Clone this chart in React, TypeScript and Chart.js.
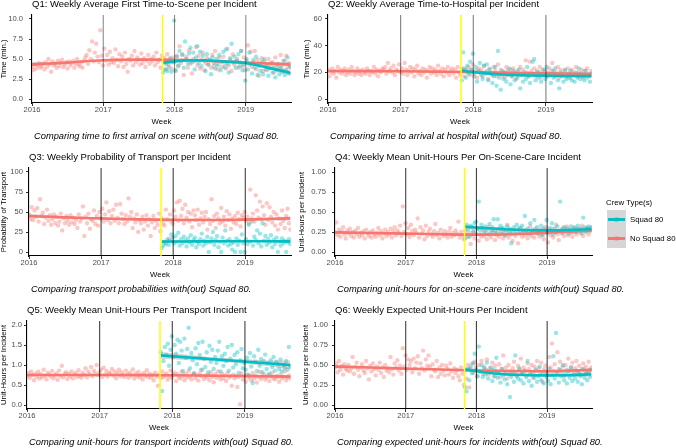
import React, { useEffect, useRef } from 'react';
import { Chart, registerables } from 'chart.js';

Chart.register(...registerables);

const FONT = "'Liberation Sans', Arial, Helvetica, sans-serif";
const RED = 'rgba(248,118,109,1)';
const RED_PT = 'rgba(248,118,109,0.4)';
const CYAN = 'rgba(0,191,196,1)';
const CYAN_PT = 'rgba(0,191,196,0.4)';
const BAND = 'rgba(153,153,153,0.4)';

// x axis: weeks since 2016-01-01
const yearTickWeeks = [0, 52.14, 104.29, 156.43];
const yearTickLabels = ['2016', '2017', '2018', '2019'];
const yearLineWeeks = [52.14, 104.29, 156.43];
const squadStartWeek = 95.5;
const squadFirstWeek = 96;
const lastWeek = 189.5;
const noSquadFitWeeks = [0, 26, 52, 78, 104, 130, 156, 189];
const squadFitWeeks = [96, 110, 125, 140, 156, 172, 189];

// ---------- Q1: time to scene (min.) ----------
const q1NoSquad = [
  4.0,3.6,4.3,3.8,4.2,4.5,3.9,4.1,4.4,3.7, 4.6,4.0,5.0,4.3,3.4,4.7,4.2,4.4,3.9,4.8,
  4.1,4.5,4.9,4.0,4.3,4.6,3.8,4.7,4.2,4.5, 4.8,3.9,4.4,5.0,4.3,4.1,4.6,3.9,4.8,5.2,
  5.5,4.4,6.1,5.0,7.2,4.7,5.8,6.9,5.3,4.6, 8.6,5.4,4.2,6.3,4.8,5.5,4.3,5.9,4.6,5.1,
  4.5,6.2,4.9,4.1,5.6,4.7,5.3,4.0,5.8,4.4, 3.4,5.0,4.8,5.4,4.2,6.0,4.6,5.2,4.9,4.3,
  5.7,4.5,5.1,4.0,4.8,5.5,4.4,5.0,4.7,5.3, 4.2,5.8,4.6,4.9,3.9,5.4,4.7,5.1,3.7,5.6,
  4.3,4.9,3.8,5.2,4.6,3.5,5.4,4.1,6.6,4.5, 5.6,3.0,4.9,5.3,3.9,6.1,4.4,3.2,5.0,4.7,
  6.5,4.2,5.4,3.8,4.9,5.8,3.6,4.5,5.1,4.3, 4.8,3.9,5.5,4.1,6.0,4.4,3.7,5.2,4.6,4.0,
  5.3,4.5,3.8,6.3,4.2,4.9,3.5,5.6,4.3,4.7, 5.0,3.9,4.6,6.0,4.1,5.2,3.6,4.8,6.7,4.3,
  5.9,4.0,4.6,6.0,3.7,4.9,2.9,4.4,5.1,3.5, 4.7,4.1,3.6,5.0,4.3,3.9,4.6,3.3,5.2,4.0,
  4.4,3.8,5.5,4.2,3.6,4.8,5.4,4.0,4.5,3.9,
];
const q1Squad = [
  3.3,3.7,4.4,3.5,4.0,5.1,3.4,4.6,9.8,3.6, 5.3,4.2,6.0,4.8,5.5,3.9,7.2,5.0,4.4,5.7,
  6.4,4.6,5.8,3.7,5.2,6.6,4.5,5.9,4.1,5.4, 4.8,3.5,5.6,4.3,4.9,3.1,5.2,4.5,3.8,5.0,
  4.2,5.5,3.6,4.7,5.9,4.0,6.2,4.4,3.3,5.1, 6.9,4.6,5.3,3.9,4.8,5.6,4.1,6.0,3.6,4.3,
  2.3,5.0,3.7,5.8,4.4,3.2,4.9,3.9,5.3,3.0, 4.1,3.5,4.6,3.1,5.0,3.7,4.2,2.9,3.8,4.5,
  3.3,4.0,2.7,3.6,4.3,3.1,3.9,3.4,4.8,3.0, 3.6,5.2,3.2,4.1,
];
const q1NoSquadFit = [4.33, 4.55, 4.85, 4.92, 4.9, 4.75, 4.55, 4.33];
const q1NoSquadBand = [0.25, 0.12, 0.1, 0.1, 0.1, 0.1, 0.12, 0.22];
const q1SquadFit = [4.55, 4.8, 4.85, 4.7, 4.5, 3.95, 3.25];
const q1SquadBand = [0.3, 0.15, 0.12, 0.12, 0.13, 0.15, 0.35];
const q1YTicks = [0, 2.5, 5, 7.5, 10];

// ---------- Q2: time to hospital (min.) ----------
const q2NoSquad = [
  22,17,20,23,19,21,16,24,20,22, 19,21,23,18,20,22,19,24,21,18,
  20,23,19,21,18,22,20,19,23,21, 18,21,20,24,19,22,17,21,20,23,
  22,24,19,27,21,23,20,25,18,22, 21,26,20,23,19,27,22,18,21,24,
  20,23,17,22,25,19,21,18,23,20, 22,16,21,24,19,23,20,22,18,25,
  21,19,23,17,22,20,24,18,21,23, 19,22,16,24,20,18,23,21,17,22,
  20,24,18,22,26,19,21,16,23,20, 22,17,25,19,21,15,23,20,18,24,
  21,17,26,19,22,18,20,16,24,21, 19,22,17,23,20,15,21,18,24,19,
  22,18,29,20,17,28,21,19,23,17, 20,18,24,16,22,19,21,17,20,23,
  18,27,21,17,20,24,16,22,19,18, 21,17,23,19,16,22,20,18,24,17,
  20,19,22,16,21,18,23,19,17,21,
];
const q2Squad = [
  14,35,23,16,25,19,28,22,34,17, 24,13,21,27,18,15,25,20,26,14,
  22,19,12,17,24,10,36,16,7,21, 15,20,13,18,23,11,17,21,14,19,
  16,22,8,18,13,20,15,24,17,12, 19,28,30,14,21,16,20,13,18,22,
  15,24,17,19,12,21,16,23,18,14, 8,20,17,13,22,15,19,16,21,14,
  18,13,20,16,23,15,19,17,14,21, 16,18,13,19,
];
const q2NoSquadFit = [21, 20.9, 20.8, 20.5, 20.2, 19.7, 19.2, 18.8];
const q2NoSquadBand = [1, 0.5, 0.4, 0.4, 0.4, 0.4, 0.5, 0.9];
const q2SquadFit = [21.2, 19.6, 18.4, 17.8, 17.5, 17.3, 17.3];
const q2SquadBand = [1.8, 1, 0.8, 0.8, 0.8, 0.8, 1.5];
const q2YTicks = [0, 20, 40, 60];

// ---------- Q3: probability of transport ----------
const q3NoSquad = [
  47,41,56,40,52,44,55,38,66,45, 49,35,43,53,39,46,34,41,47,36,
  44,33,38,48,27,42,36,45,39,34, 46,37,43,35,40,30,47,38,42,57,
  20,44,36,48,29,41,39,52,35,45, 33,50,42,54,38,47,62,40,51,36,
  45,53,39,59,43,36,60,48,41,35, 46,38,67,44,50,30,42,37,47,25,
  40,36,44,28,38,46,33,41,20,37, 45,30,39,34,48,26,42,36,33,53,
  41,17,47,38,35,52,44,62,39,64, 45,54,36,59,43,50,38,48,31,52,
  46,40,53,34,42,49,37,44,50,28, 41,35,66,39,45,30,48,42,36,55,
  38,44,33,51,40,47,29,42,37,45, 35,49,41,32,46,43,50,39,44,36,
  78,42,48,38,71,52,43,63,41,57, 46,34,61,40,56,44,37,50,33,47,
  28,42,35,52,39,30,45,54,36,28,
];
const q3Squad = [
  5,8,12,10,15,9,14,22,18,11, 20,13,24,8,16,11,19,14,7,17,
  12,21,9,15,18,6,13,10,16,23, 8,14,11,19,0,12,17,25,9,15,
  20,6,13,0,18,11,27,14,8,16, 10,3,12,0,17,9,14,0,22,11,
  0,16,10,34,13,38,8,19,15,27, 11,23,7,36,14,20,9,16,12,21,
  6,15,10,18,0,13,8,17,11,14, 0,12,16,10,
];
const q3NoSquadFit = [45, 43.3, 42, 40.8, 40.2, 40, 40.5, 42];
const q3NoSquadBand = [2.5, 1.2, 1, 1, 1, 1, 1.2, 2.5];
const q3SquadFit = [13, 13.2, 13.3, 13.4, 13.4, 13.4, 13.3];
const q3SquadBand = [2, 1.2, 1, 1, 1, 1, 2];
const q3YTicks = [0, 25, 50, 75, 100];

// ---------- Q4: unit-hours per on-scene-care incident ----------
const q4NoSquad = [
  .24,.37,.21,.28,.19,.26,.31,.22,.17,.27, .23,.29,.20,.25,.18,.27,.22,.30,.19,.24,
  .21,.26,.17,.28,.23,.20,.25,.18,.27,.22, .19,.24,.30,.21,.26,.17,.23,.28,.20,.25,
  .22,.29,.18,.26,.31,.21,.27,.24,.33,.20, .57,.25,.36,.22,.30,.19,.34,.26,.21,.28,
  .24,.42,.18,.31,.23,.27,.16,.33,.20,.25, .29,.22,.19,.26,.35,.21,.24,.17,.28,.23,
  .20,.26,.22,.18,.25,.30,.19,.24,.21,.27, .23,.38,.18,.25,.21,.16,.27,.22,.19,.24,
  .10,.21,.26,.17,.23,.30,.14,.22,.19,.28, .20,.25,.16,.31,.22,.18,.27,.24,.15,.21,
  .26,.19,.23,.29,.17,.25,.21,.34,.18,.24, .22,.14,.28,.20,.25,.11,.23,.30,.19,.26,
  .21,.27,.17,.24,.32,.20,.26,.18,.29,.23, .25,.19,.28,.22,.16,.31,.24,.12,.27,.21,
  .29,.18,.25,.34,.22,.15,.27,.23,.30,.20, .26,.32,.21,.28,.24,.19,.31,.25,.22,.29,
  .27,.23,.33,.20,.28,.25,.30,.22,.26,.31,
];
const q4Squad = [
  .17,.34,.28,.19,.33,.31,.25,.36,.38,.29, .63,.27,.34,.30,.24,.32,.28,.22,.35,.26,
  .31,.41,.27,.23,.41,.29,.33,.25,.30,.21, .27,.32,.24,.29,.11,.26,.31,.23,.34,.28,
  .30,.25,.33,.27,.45,.24,.29,.22,.36,.26, .28,.40,.25,.31,.23,.27,.33,.21,.29,.26,
  .40,.24,.30,.27,.36,.22,.29,.25,.32,.26, .63,.28,.24,.31,.26,.29,.23,.27,.32,.25,
  .28,.30,.25,.33,.27,.29,.24,.43,.31,.26, .29,.32,.27,.30,
];
const q4NoSquadFit = [0.245, 0.238, 0.23, 0.222, 0.217, 0.222, 0.24, 0.27];
const q4NoSquadBand = [0.02, 0.01, 0.01, 0.01, 0.01, 0.01, 0.01, 0.02];
const q4SquadFit = [0.315, 0.3, 0.285, 0.275, 0.27, 0.275, 0.285];
const q4SquadBand = [0.03, 0.015, 0.012, 0.012, 0.012, 0.015, 0.03];
const q4YTicks = [0, 0.25, 0.5, 0.75, 1];

// ---------- Q5: unit-hours per transport incident ----------
const q5NoSquad = [
  .72,.80,.68,.84,.75,.62,.78,.70,.83,.66, .77,.69,.88,.73,.64,.81,.76,.71,.85,.67,
  .74,.79,.63,.86,.72,.98,.69,.77,.82,.65, .78,.71,.84,.66,.76,.80,.70,.87,.73,.68,
  .81,.75,.92,.69,.84,.77,.95,.72,.86,.79, 1.0,.74,.82,.88,.70,.93,.76,.85,.71,.80,
  .78,.90,.73,.84,.67,.79,.88,.72,.82,.75, .70,.86,.77,.68,.81,.74,.89,.66,.79,.72,
  .83,.69,.76,.64,.80,.73,.87,.70,.78,.68, .75,.62,.81,.71,.48,.77,.67,.84,.70,.74,
  .79,.63,.72,.86,.68,.75,.81,.60,.77,.70, .66,.83,.73,.62,.78,.69,.85,.71,.64,.76,
  .80,.67,.74,.61,.79,.72,.88,.65,.73,.69, .75,.62,.82,.70,.57,.77,.68,.84,.71,.64,
  .78,.66,.74,.60,.81,.69,.72,.48,.76,.67, .73,.45,.70,.02,.79,.64,.71,.58,.76,.68,
  .72,.62,.80,.66,.74,.56,.70,.83,.65,.71, .77,.63,.69,.75,.60,.72,.81,.67,.64,.73,
  .70,.58,.76,.66,.71,.84,.62,.69,.74,.67,
];
const q5Squad = [
  1.32,.35,1.10,1.45,1.25,1.53,.98,1.38,1.72,1.20, 1.50,1.28,1.63,1.05,1.58,1.36,.85,1.66,1.18,1.40,
  1.93,.92,1.30,1.12,.78,1.42,1.02,1.55,1.25,.88, 1.58,1.15,.95,1.32,.82,1.48,1.08,1.38,.90,1.20,
  1.05,1.36,1.58,.84,1.22,.98,1.28,1.10,1.45,.86, 1.16,1.50,.94,1.25,1.02,1.32,.80,1.12,1.40,.92,
  1.05,.88,1.18,.75,1.30,.96,.55,1.22,1.08,.85, 1.38,.98,1.15,.82,1.10,1.26,.90,1.05,.78,1.12,
  .95,1.20,.86,1.08,1.02,.90,1.14,.84,1.00,.93, 1.10,.88,1.45,.96,
];
const q5NoSquadFit = [0.75, 0.75, 0.75, 0.748, 0.745, 0.735, 0.725, 0.71];
const q5NoSquadBand = [0.03, 0.015, 0.012, 0.012, 0.012, 0.012, 0.015, 0.03];
const q5SquadFit = [1.24, 1.204, 1.165, 1.127, 1.086, 1.045, 1.0];
const q5SquadBand = [0.09, 0.07, 0.055, 0.05, 0.055, 0.07, 0.11];
const q5YTicks = [0, 0.5, 1, 1.5, 2];

// ---------- Q6: expected unit-hours per incident ----------
const q6NoSquad = [
  .47,.52,.41,.55,.44,.49,.38,.51,.45,.43, .50,.42,.46,.60,.39,.48,.53,.44,.36,.47,
  .51,.43,.40,.55,.46,.32,.49,.42,.52,.45, .37,.48,.44,.53,.40,.47,.35,.50,.43,.46,
  .41,.60,.45,.38,.52,.47,.56,.43,.49,.39, .71,.48,.62,.44,.57,.50,.55,.41,.58,.46,
  .53,.61,.39,.52,.46,.68,.43,.57,.49,.62, .48,.36,.51,.44,.42,.55,.35,.47,.39,.50,
  .43,.37,.49,.45,.38,.52,.42,.34,.46,.40, .44,.36,.31,.47,.39,.25,.43,.33,.50,.22,
  .45,.52,.40,.54,.47,.36,.50,.42,.55,.39, .48,.44,.57,.38,.46,.41,.53,.36,.49,.43,
  .40,.51,.35,.45,.62,.39,.47,.33,.50,.42, .38,.46,.54,.41,.36,.49,.44,.58,.40,.47,
  .43,.37,.52,.45,.39,.50,.34,.48,.42,.55, .46,.40,.53,.29,.44,.49,.38,.41,.60,.47,
  .77,.43,.51,.39,.66,.45,.54,.40,.48,.36, .50,.44,.58,.42,.47,.53,.39,.46,.55,.41,
  .49,.38,.45,.52,.43,.48,.40,.54,.44,.47,
];
const q6Squad = [
  .22,.17,.45,.31,.48,.40,.52,.64,.44,.36, .73,.42,.50,.35,.46,.38,.53,.33,.41,.47,
  .30,.44,.36,.59,.34,.40,.28,.45,.37,.32, .42,.26,.38,.10,.35,.41,.29,.62,.37,.33,
  .46,.31,.39,.27,.43,.35,.55,.30,.38,.24, .40,.34,.44,.29,.36,.48,.31,.39,.27,.42,
  .35,.30,.45,.26,.38,.61,.33,.90,.41,.28, .44,.36,.50,.31,.39,.27,.42,.34,.47,.30,
  .38,.33,.43,.29,.40,.36,.26,.45,.34,.39, .31,.41,.35,.44,
];
const q6NoSquadFit = [0.48, 0.468, 0.455, 0.443, 0.432, 0.425, 0.422, 0.44];
const q6NoSquadBand = [0.02, 0.01, 0.008, 0.008, 0.008, 0.008, 0.01, 0.02];
const q6SquadFit = [0.445, 0.41, 0.385, 0.375, 0.37, 0.372, 0.385];
const q6SquadBand = [0.03, 0.015, 0.012, 0.012, 0.012, 0.015, 0.03];
const q6YTicks = [0, 0.25, 0.5, 0.75, 1];

type Spec = {
  title: string; caption: string; yTitle: string;
  yMin: number; yMax: number; yTicks: number[]; yDecimals: number;
  noSquad: number[]; squad: number[];
  noSquadFit: number[]; noSquadBand: number[];
  squadFit: number[]; squadBand: number[];
  yAxisWidth: number; yTitlePad: number; yTickPad: number; vlineColor: string;
};

const specs: Spec[] = [
  { title: 'Q1: Weekly Average First Time-to-Scene per Incident', caption: 'Comparing time to first arrival on scene with(out) Squad 80.', yTitle: 'Time (min.)', yMin: -0.5, yMax: 10.5, yTicks: q1YTicks, yDecimals: 1, noSquad: q1NoSquad, squad: q1Squad, noSquadFit: q1NoSquadFit, noSquadBand: q1NoSquadBand, squadFit: q1SquadFit, squadBand: q1SquadBand, yAxisWidth: 32, yTitlePad: 0, yTickPad: 6, vlineColor: 'rgba(0,0,0,0.45)' },
  { title: 'Q2: Weekly Average Time-to-Hospital per Incident', caption: 'Comparing time to arrival at hospital with(out) Squad 80.', yTitle: 'Time (min.)', yMin: -3, yMax: 63, yTicks: q2YTicks, yDecimals: 0, noSquad: q2NoSquad, squad: q2Squad, noSquadFit: q2NoSquadFit, noSquadBand: q2NoSquadBand, squadFit: q2SquadFit, squadBand: q2SquadBand, yAxisWidth: 32, yTitlePad: 7, yTickPad: 3, vlineColor: 'rgba(0,0,0,0.5)' },
  { title: 'Q3: Weekly Probability of Transport per Incident', caption: 'Comparing transport probabilities with(out) Squad 80.', yTitle: 'Probability of Transport', yMin: -5, yMax: 105, yTicks: q3YTicks, yDecimals: 0, noSquad: q3NoSquad, squad: q3Squad, noSquadFit: q3NoSquadFit, noSquadBand: q3NoSquadBand, squadFit: q3SquadFit, squadBand: q3SquadBand, yAxisWidth: 29, yTitlePad: 0, yTickPad: 3, vlineColor: 'rgba(0,0,0,0.75)' },
  { title: 'Q4: Weekly Mean Unit-Hours Per On-Scene-Care Incident', caption: 'Comparing unit-hours for on-scene-care incidents with(out) Squad 80.', yTitle: 'Unit-Hours per Incident', yMin: -0.05, yMax: 1.05, yTicks: q4YTicks, yDecimals: 2, noSquad: q4NoSquad, squad: q4Squad, noSquadFit: q4NoSquadFit, noSquadBand: q4NoSquadBand, squadFit: q4SquadFit, squadBand: q4SquadBand, yAxisWidth: 39, yTitlePad: 2, yTickPad: 6, vlineColor: 'rgba(0,0,0,0.75)' },
  { title: 'Q5: Weekly Mean Unit-Hours Per Transport Incident', caption: 'Comparing unit-hours for transport incidents with(out) Squad 80.', yTitle: 'Unit-Hours per Incident', yMin: -0.1, yMax: 2.1, yTicks: q5YTicks, yDecimals: 1, noSquad: q5NoSquad, squad: q5Squad, noSquadFit: q5NoSquadFit, noSquadBand: q5NoSquadBand, squadFit: q5SquadFit, squadBand: q5SquadBand, yAxisWidth: 27, yTitlePad: 0, yTickPad: 2, vlineColor: 'rgba(0,0,0,0.75)' },
  { title: 'Q6: Weekly Expected Unit-Hours Per Incident', caption: 'Comparing expected unit-hours for incidents with(out) Squad 80.', yTitle: 'Unit-Hours per Incident', yMin: -0.05, yMax: 1.05, yTicks: q6YTicks, yDecimals: 2, noSquad: q6NoSquad, squad: q6Squad, noSquadFit: q6NoSquadFit, noSquadBand: q6NoSquadBand, squadFit: q6SquadFit, squadBand: q6SquadBand, yAxisWidth: 39, yTitlePad: 6, yTickPad: 4, vlineColor: 'rgba(0,0,0,0.75)' },
];

const markerPlugin = {
  id: 'markers',
  afterDatasetsDraw(chart: any, _args: any, opts: any) {
    const { ctx, chartArea, scales } = chart;
    const xs = scales.x;
    ctx.save();
    ctx.lineWidth = 1.1;
    ctx.strokeStyle = opts.yearColor;
    yearLineWeeks.forEach((w) => {
      const px = xs.getPixelForValue(w);
      ctx.beginPath();
      ctx.moveTo(px, chartArea.top);
      ctx.lineTo(px, chartArea.bottom);
      ctx.stroke();
    });
    const py = xs.getPixelForValue(squadStartWeek);
    ctx.strokeStyle = '#FFFF00';
    ctx.lineWidth = 1.5;
    ctx.beginPath();
    ctx.moveTo(py, chartArea.top);
    ctx.lineTo(py, chartArea.bottom);
    ctx.stroke();
    ctx.restore();
  },
};

const panelTextPlugin = {
  id: 'panelText',
  afterDraw(chart: any, _args: any, opts: any) {
    const { ctx, chartArea } = chart;
    ctx.save();
    ctx.fillStyle = '#000';
    ctx.textAlign = 'left';
    ctx.textBaseline = 'middle';
    ctx.font = `9.5px ${FONT}`;
    ctx.fillText(opts.title, chartArea.left, chartArea.top - 10.5);
    ctx.font = `italic 9.3px ${FONT}`;
    ctx.fillText(opts.caption, chartArea.left + 2, chartArea.bottom + 33.5);
    ctx.restore();
  },
};

function Panel({ spec, left, top, width, height, padRight }: { spec: Spec; left: number; top: number; width: number; height: number; padRight: number }) {
  const ref = useRef<HTMLCanvasElement>(null);
  useEffect(() => {
    if (!ref.current) return;
    const noSquadPts = spec.noSquad.map((y, i) => ({ x: i, y }));
    const squadPts = spec.squad.map((y, i) => ({ x: squadFirstWeek + i, y }));
    const nsFit = noSquadFitWeeks.map((x, i) => ({ x, y: spec.noSquadFit[i] }));
    const nsHi = noSquadFitWeeks.map((x, i) => ({ x, y: spec.noSquadFit[i] + spec.noSquadBand[i] }));
    const nsLo = noSquadFitWeeks.map((x, i) => ({ x, y: spec.noSquadFit[i] - spec.noSquadBand[i] }));
    const sqFit = squadFitWeeks.map((x, i) => ({ x, y: spec.squadFit[i] }));
    const sqHi = squadFitWeeks.map((x, i) => ({ x, y: spec.squadFit[i] + spec.squadBand[i] }));
    const sqLo = squadFitWeeks.map((x, i) => ({ x, y: spec.squadFit[i] - spec.squadBand[i] }));
    const lineBase = { pointRadius: 0, cubicInterpolationMode: 'monotone' as const, fill: false };
    const bandEdge = { ...lineBase, borderColor: 'rgba(0,0,0,0)', borderWidth: 1 };
    const chart = new Chart(ref.current, {
      type: 'line',
      data: {
        datasets: [
          { ...lineBase, label: 'Squad 80 fit', data: sqFit, borderColor: CYAN, borderWidth: 2.6, order: 1 },
          { ...lineBase, label: 'No Squad 80 fit', data: nsFit, borderColor: RED, borderWidth: 2.6, order: 2 },
          { ...bandEdge, label: 'ns hi', data: nsHi, order: 4 },
          { ...bandEdge, label: 'ns lo', data: nsLo, order: 4, fill: '-1', backgroundColor: BAND },
          { ...bandEdge, label: 'sq hi', data: sqHi, order: 3 },
          { ...bandEdge, label: 'sq lo', data: sqLo, order: 3, fill: '-1', backgroundColor: BAND },
          { label: 'Squad 80', data: squadPts, showLine: false, pointRadius: 2.2, pointBorderWidth: 0, pointBackgroundColor: CYAN_PT, pointBorderColor: 'rgba(0,0,0,0)', order: 5 },
          { label: 'No Squad 80', data: noSquadPts, showLine: false, pointRadius: 2.2, pointBorderWidth: 0, pointBackgroundColor: RED_PT, pointBorderColor: 'rgba(0,0,0,0)', order: 6 },
        ] as any,
      },
      options: {
        responsive: false,
        animation: false,
        events: [],
        layout: { padding: { top: 15, bottom: 13, left: 0, right: padRight } },
        plugins: {
          legend: { display: false },
          tooltip: { enabled: false },
          markers: { yearColor: spec.vlineColor },
          panelText: { title: spec.title, caption: spec.caption },
        } as any,
        scales: {
          x: {
            type: 'linear', min: 0, max: lastWeek, bounds: 'data',
            afterBuildTicks: (s: any) => { s.ticks = yearTickWeeks.map((v) => ({ value: v })); },
            afterFit: (s: any) => { s.height = 27; },
            ticks: {
              autoSkip: false, maxRotation: 0, padding: 0, color: '#4d4d4d',
              font: { family: FONT, size: 7.6, lineHeight: 1 },
              callback: (_v: any, i: number) => yearTickLabels[i],
            },
            grid: { display: true, drawOnChartArea: false, drawTicks: true, tickLength: 3, tickColor: '#333', tickWidth: 1 },
            border: { display: true, color: '#000', width: 1.1 },
            title: { display: true, text: 'Week', color: '#000', font: { family: FONT, size: 7.8, lineHeight: 1 }, padding: { top: 0, bottom: 4 } },
          },
          y: {
            type: 'linear', min: spec.yMin, max: spec.yMax, bounds: 'data',
            afterBuildTicks: (s: any) => { s.ticks = spec.yTicks.map((v) => ({ value: v })); },
            afterFit: (s: any) => { s.width = spec.yAxisWidth; },
            ticks: {
              autoSkip: false, padding: spec.yTickPad, color: '#4d4d4d',
              font: { family: FONT, size: 7.6, lineHeight: 1 },
              callback: (v: any) => Number(v).toFixed(spec.yDecimals),
            },
            grid: { display: true, drawOnChartArea: false, drawTicks: true, tickLength: 3, tickColor: '#333', tickWidth: 1 },
            border: { display: true, color: '#000', width: 1.1 },
            title: { display: true, text: spec.yTitle, color: '#000', font: { family: FONT, size: 7.8, lineHeight: 1 }, padding: { top: spec.yTitlePad, bottom: 0 } },
          },
        } as any,
      },
      plugins: [markerPlugin, panelTextPlugin],
    });
    return () => chart.destroy();
  }, []);
  return (
    <canvas
      ref={ref}
      width={width}
      height={height}
      style={{ position: 'absolute', left, top, width, height }}
    />
  );
}

const rowTops = [0, 153, 306];
const legendTitle = 'Crew Type(s)';
const legendItems = [
  { label: 'Squad 80', line: CYAN, point: CYAN_PT },
  { label: 'No Squad 80', line: RED, point: RED_PT },
];

export default function App() {
  return (
    <div style={{ position: 'absolute', left: 0, top: 0, width: 676, height: 448, overflow: 'hidden', background: '#fff', fontFamily: FONT }}>
      {specs.map((spec, i) => {
        const col = i % 2;
        const row = Math.floor(i / 2);
        return (
          <Panel
            key={i}
            spec={spec}
            left={col === 0 ? 0 : 296}
            top={rowTops[row]}
            width={col === 0 ? 296 : 380}
            height={143}
            padRight={col === 0 ? 5 : 84}
          />
        );
      })}
      <div style={{ position: 'absolute', left: 606, top: 198, fontSize: 7.8, lineHeight: '10px', color: '#000', whiteSpace: 'nowrap' }}>{legendTitle}</div>
      {legendItems.map((it, k) => (
        <React.Fragment key={k}>
          <div style={{ position: 'absolute', left: 607, top: 210 + k * 19, width: 19, height: 19, background: '#d6d6d6' }}>
            <div style={{ position: 'absolute', left: 1, top: 8.2, width: 17, height: 2.6, background: it.line }} />
            <div style={{ position: 'absolute', left: 7.4, top: 7.4, width: 4.2, height: 4.2, borderRadius: '50%', background: it.point }} />
          </div>
          <div style={{ position: 'absolute', left: 630, top: 214.5 + k * 19, fontSize: 7.8, lineHeight: '10px', color: '#000', whiteSpace: 'nowrap' }}>{it.label}</div>
        </React.Fragment>
      ))}
    </div>
  );
}
